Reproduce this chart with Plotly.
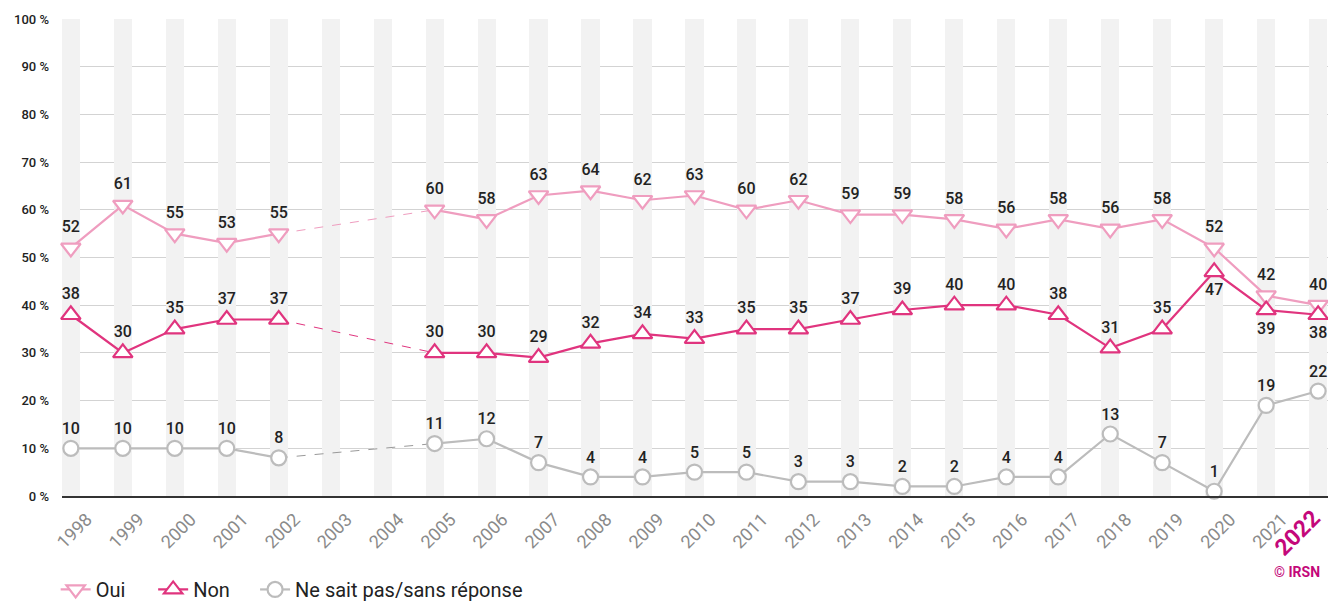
import plotly.graph_objects as go

years = list(range(1998, 2023))
oui = [52, 61, 55, 53, 55, None, None, 60, 58, 63, 64, 62, 63, 60, 62, 59, 59, 58, 56, 58, 56, 58, 52, 42, 40]
non = [38, 30, 35, 37, 37, None, None, 30, 30, 29, 32, 34, 33, 35, 35, 37, 39, 40, 40, 38, 31, 35, 47, 39, 38]
nsp = [10, 10, 10, 10, 8, None, None, 11, 12, 7, 4, 4, 5, 5, 3, 3, 2, 2, 4, 4, 13, 7, 1, 19, 22]
band_height = [100] * len(years)

c_oui = "#ef9dbf"
c_non = "#e0347e"
c_nsp = "#bcbcbc"
magenta = "#c4087a"
font = dict(family="Roboto", color="#222222")


def labels(vals):
    return [str(v) if v is not None else "" for v in vals]


fig = go.Figure()

# grey column bands behind each year
fig.add_trace(go.Bar(x=years, y=band_height, width=0.35, marker=dict(color="#f2f2f2", line=dict(width=0)),
                     hoverinfo="skip", showlegend=False))

# dashed gaps 2002 -> 2005
for vals, col in [(oui, c_oui), (non, c_non), (nsp, "#999999")]:
    fig.add_trace(go.Scatter(x=[years[4], years[7]], y=[vals[4], vals[7]], mode="lines",
                             line=dict(color=col, width=1, dash="dash"), showlegend=False, hoverinfo="skip"))

non_pos = ["top center"] * len(years)
non_pos[-3:] = ["bottom center"] * 3

# one legend per series so the entries sit where the original has them
series = [
    ("Oui", oui, c_oui, "triangle-down", ["top center"] * len(years), 17, "legend"),
    ("Non", non, c_non, "triangle-up", non_pos, 17, "legend2"),
    ("Ne sait pas/sans réponse", nsp, c_nsp, "circle", ["top center"] * len(years), 15, "legend3"),
]
for name, vals, col, sym, pos, size, leg in series:
    fig.add_trace(go.Scatter(
        x=years, y=vals, name=name, mode="lines+markers+text",
        line=dict(color=col, width=2.2),
        marker=dict(symbol=sym, size=size, color="white", line=dict(color=col, width=2.2)),
        text=labels(vals), textposition=pos,
        textfont=dict(family="Roboto", size=16, color="#222222", weight=500),
        cliponaxis=False, legend=leg,
    ))

# last year is highlighted separately (annotation), the rest are plain tick labels
ticktext = [str(y) for y in years[:-1]] + [""]

leg_style = dict(orientation="h", xanchor="left", y=-0.155, yanchor="top",
                 font=dict(family="Roboto", size=20, color="#222222"), bgcolor="rgba(0,0,0,0)")

fig.update_layout(
    width=1328, height=605,
    margin=dict(l=62, r=0, t=19, b=109, autoexpand=False),
    plot_bgcolor="white", paper_bgcolor="white",
    font=font, bargap=0,
    showlegend=True,
    legend=dict(x=-0.005, **leg_style),
    legend2=dict(x=0.072, **leg_style),
    legend3=dict(x=0.1525, **leg_style),
    xaxis=dict(range=[1997.83, 2022.19], tickmode="array", tickvals=years, ticktext=ticktext,
               tickangle=-45, tickfont=dict(family="Roboto", size=18, color="#8a8a8a"),
               ticklabelshift=16, ticklabelstandoff=4, ticklabeloverflow="allow",
               showgrid=False, zeroline=False, showline=True, linecolor="#333333", linewidth=2,
               ticks="", fixedrange=True, automargin=False),
    yaxis=dict(range=[0, 100], tickvals=list(range(0, 101, 10)),
               ticktext=[f"{v} %" for v in range(0, 101, 10)],
               tickfont=dict(family="Roboto", size=13, color="#222222", weight=500),
               showgrid=True, gridcolor="#d3d3d3", gridwidth=1, zeroline=False, ticks="",
               ticklabelstandoff=12, automargin=False),
    annotations=[
        dict(text=f"<b>{years[-1]}</b>", x=years[-1], xref="x", y=0, yref="y",
             xanchor="right", yanchor="top", xshift=10, yshift=-6, textangle=-45, showarrow=False,
             font=dict(family="Roboto", size=23, color=magenta)),
        dict(text="<b>© IRSN</b>", x=1, xanchor="right", xref="paper", xshift=-6,
             y=-0.16, yref="paper", yanchor="middle", showarrow=False,
             font=dict(family="Roboto", size=14, color=magenta)),
    ],
)

fig.write_html("out.html", config={"displayModeBar": False},
               post_script="document.body.style.margin='0';document.body.style.overflow='hidden';")
